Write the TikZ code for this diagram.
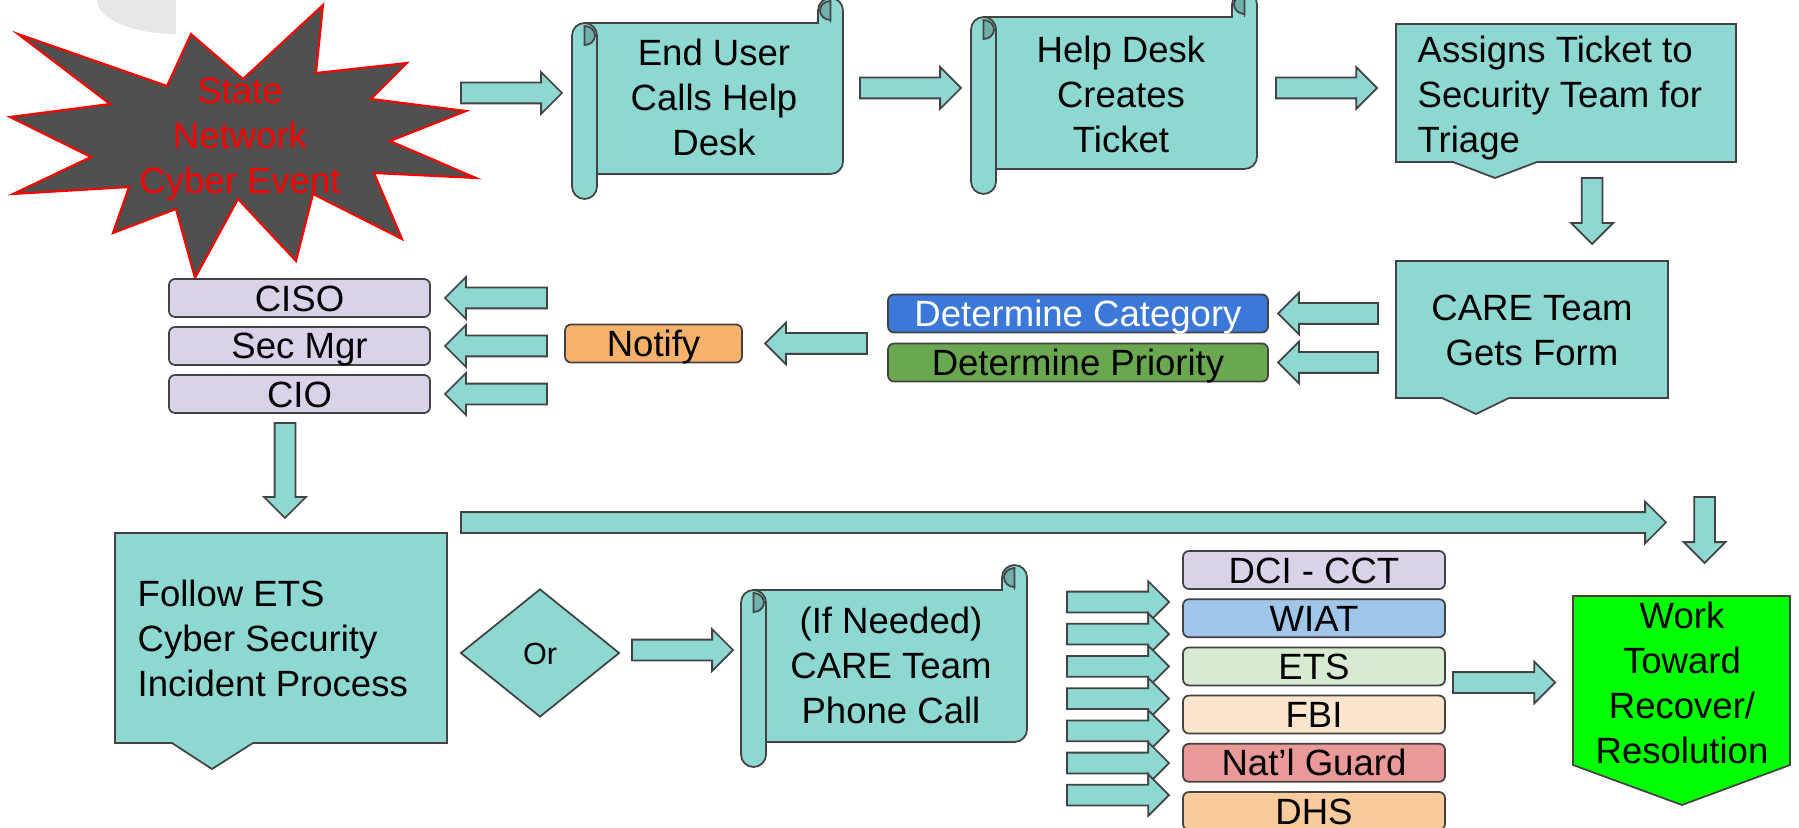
\documentclass[tikz,border=0pt]{standalone}
\usepackage{fontspec}
\setmainfont{Liberation Sans}
\usetikzlibrary{shapes.geometric, shapes.arrows}

\definecolor{boxteal}{HTML}{8ED8D2}
\definecolor{rollteal}{HTML}{6FB0AB}
\definecolor{edgegray}{HTML}{434343}
\definecolor{stargray}{HTML}{505050}
\definecolor{fadegray}{HTML}{E8E8E8}
\definecolor{lavender}{HTML}{D9D2E9}
\definecolor{notifyorange}{HTML}{F6B26B}
\definecolor{catblue}{HTML}{3C78D8}
\definecolor{prigreen}{HTML}{6AA84F}
\definecolor{wiatblue}{HTML}{9FC5E8}
\definecolor{etsgreen}{HTML}{D9EAD3}
\definecolor{fbipeach}{HTML}{FCE5CD}
\definecolor{guardred}{HTML}{EA9999}
\definecolor{dhsorange}{HTML}{F9CB9C}
\definecolor{workgreen}{HTML}{00FF00}

% scroll: left, top, right, bottom
\newcommand{\scrollshape}[4]{%
  \filldraw[tealbox] ({#1+12.5},{#2+25}) -- ({#3-25},{#2+25}) -- ({#3-25},{#2+12.5})
    arc[start angle=180, end angle=360, radius=12.5] -- (#3,{#4-37.5})
    arc[start angle=0, end angle=90, radius=12.5] -- ({#1+12.5},{#4-25}) -- cycle;
  \filldraw[rolldark] ({#3-12.5},{#2+3}) arc[start angle=270, end angle=90, x radius=10.5, y radius=9.5] -- cycle;
  \draw[edge] ({#3-12.5},{#2+22}) -- ({#3-12.5},{#2+25});
  \filldraw[tealbox] (#1,{#2+37.5}) arc[start angle=180, end angle=360, radius=12.5] -- ({#1+25},{#4-12.5})
    arc[start angle=0, end angle=180, radius=12.5] -- cycle;
  \filldraw[rolldark] ({#1+12.5},{#2+28}) arc[start angle=270, end angle=450, x radius=10.5, y radius=9.5] -- cycle;
}

\begin{document}
\begin{tikzpicture}[x=0.1mm, y=-0.1mm, font=\fontsize{10.4pt}{12.8pt}\selectfont,
  edge/.style={draw=edgegray, line width=0.5pt},
  tealbox/.style={edge, fill=boxteal},
  rolldark/.style={edge, fill=rollteal},
  fatarrow/.style={single arrow, tealbox, minimum width=4mm, single arrow head extend=1.05mm,
    single arrow tip angle=90, single arrow head indent=0mm, inner xsep=0pt, inner ysep=0.95mm,
    outer sep=0pt, anchor=tail},
  fatleft/.style={fatarrow, shape border rotate=180},
  fatdown/.style={fatarrow, shape border rotate=270, inner xsep=0.95mm, inner ysep=0pt},
  tag/.style={edge, rounded corners=1.7pt, minimum height=3.8mm, inner sep=0pt,
    text height=2.6mm, text depth=0mm},
  txt/.style={inner sep=0pt, align=center}]

\path[use as bounding box, fill=white] (0,0) rectangle (1799,828);

% faded corner
\fill[fadegray] (97,0) arc[start angle=180, end angle=90, x radius=79, y radius=34] -- (176,0) -- cycle;

% event burst
\filldraw[fill=stargray, draw=red, line width=0.6pt]
  (323,5) -- (316,73) -- (407,63) -- (371,99) -- (466,111) -- (390,141)
  -- (476,178) -- (374,173) -- (402,239) -- (313,194) -- (296,261) -- (238,199)
  -- (195,278) -- (176,209) -- (113,233) -- (129,187) -- (13,194) -- (91,157)
  -- (10,117) -- (110,104) -- (18,34) -- (167,86) -- (191,34) -- (243,79) -- cycle;
\node[txt, red] (event) at (240,140) {State\\Network\\Cyber Event};

% top row
\scrollshape{572}{-2}{843}{199}
\node[txt] (enduser) at (714,97) {End User\\Calls Help\\Desk};
\scrollshape{971}{-8}{1257}{194}
\node[txt] (helpdesk) at (1121,94) {Help Desk\\Creates\\Ticket};

\filldraw[tealbox] (1396,24) -- (1736,24) -- (1736,162) -- (1537,162) -- (1495,178)
  -- (1453,162) -- (1396,162) -- cycle;
\node[txt, align=left, anchor=west] (assign) at (1417,98) {Assigns Ticket to\\Security Team for\\Triage};

\node[fatarrow, minimum height=10.1mm] (callarrow) at (461,93) {};
\node[fatarrow, minimum height=10.1mm] (ticketarrow) at (860,88) {};
\node[fatarrow, minimum height=10.1mm] (assignarrow) at (1276,88) {};
\node[fatdown, minimum height=6.6mm] (formarrow) at (1592,178) {};

% middle row
\filldraw[tealbox] (1396,261) -- (1668,261) -- (1668,398) -- (1509,398) -- (1476,414)
  -- (1442,398) -- (1396,398) -- cycle;
\node[txt] (careform) at (1532,330) {CARE Team\\Gets Form};

\node[tag, fill=catblue, text=white, minimum width=38mm] (category) at (1078,313.5) {Determine Category};
\node[tag, fill=prigreen, minimum width=38mm] (priority) at (1078,362.5) {Determine Priority};
\node[fatleft, minimum height=10mm] (catarrow) at (1378,313.5) {};
\node[fatleft, minimum height=10mm] (priarrow) at (1378,362.5) {};

\node[tag, fill=notifyorange, minimum width=17.7mm] (notify) at (653.5,343.5) {Notify};
\node[fatleft, minimum height=10.2mm] (notifyarrow) at (867,343.5) {};

\foreach \name/\role [count=\i from 0] in {ciso/CISO, secmgr/Sec Mgr, cio/CIO} {
  \node[tag, fill=lavender, minimum width=26.1mm] (\name) at (299.5,{298+48*\i}) {\role};
  \node[fatleft, minimum height=10.2mm] (\name arrow) at (547,{298+48*\i}) {};
}

% bottom row
\node[fatdown, minimum height=9.5mm] (etsarrow) at (285,423) {};
\filldraw[tealbox] (115,533) -- (447,533) -- (447,743) -- (253,743) -- (212,769)
  -- (172,743) -- (115,743) -- cycle;
\node[txt, align=left, anchor=west] (followets) at (137,638) {Follow ETS\\Cyber Security\\Incident Process};

\node[fatarrow, minimum height=120.5mm] (longarrow) at (461,522.5) {};
\node[fatdown, minimum height=6.6mm] (workarrow) at (1704.5,497) {};

\node[diamond, tealbox, minimum width=15.9mm, minimum height=12.8mm, inner sep=0pt,
  font=\fontsize{8.7pt}{10pt}\selectfont, text height=2.2mm, text depth=0mm] (ordiamond) at (540,653) {Or};
\node[fatarrow, minimum height=10.1mm] (orarrow) at (632,650) {};

\scrollshape{741}{565}{1027}{767}
\node[txt] (carecall) at (891,665) {(If Needed)\\CARE Team\\Phone Call};

% agencies
\foreach \i in {0,...,6}
  \node[fatarrow, minimum height=10.2mm] (inarrow\i) at (1067,{602+32.2*\i}) {};
\foreach \name/\agency/\col [count=\i from 0] in {dci/DCI - CCT/lavender, wiat/WIAT/wiatblue,
    ets/ETS/etsgreen, fbi/FBI/fbipeach, guard/Nat’l Guard/guardred, dhs/DHS/dhsorange}
  \node[tag, fill=\col, minimum width=26.2mm] (\name) at (1314,{570+48.2*\i}) {\agency};
\node[fatarrow, minimum height=10.2mm] (recoverarrow) at (1453,682.5) {};

% outcome
\filldraw[edge, fill=workgreen] (1573,596) -- (1790,596) -- (1790,765) -- (1682,805)
  -- (1573,765) -- cycle;
\node[txt] (recover) at (1682,683) {Work\\Toward\\Recover/\\Resolution};

\end{tikzpicture}
\end{document}
